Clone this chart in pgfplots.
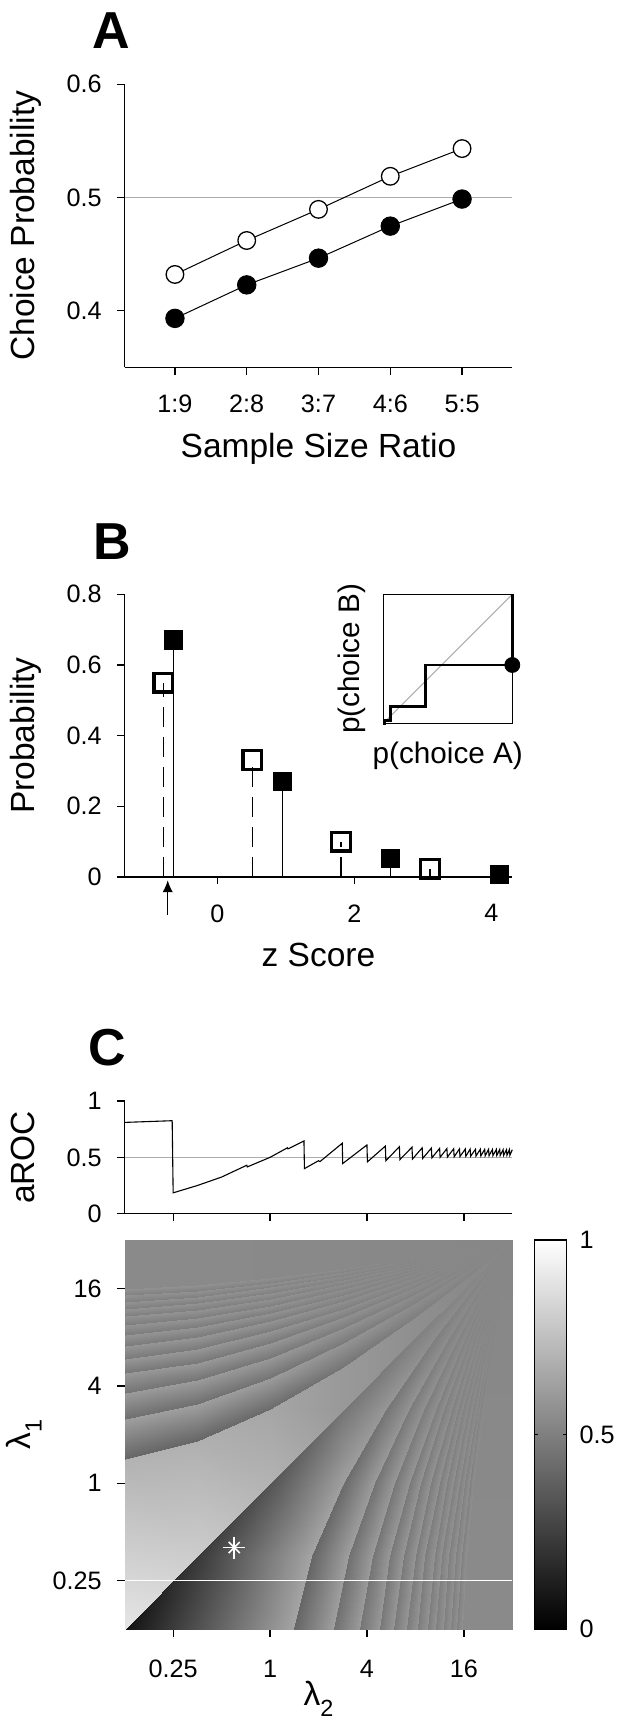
\documentclass[border=0pt]{standalone}
\usepackage{fontspec}
\setmainfont{Liberation Sans}
\usepackage{pgfplots}
\usepackage{pgfplotstable}
\pgfplotsset{compat=1.18}
\usetikzlibrary{arrows.meta}
\definecolor{lgray}{gray}{0.68}
\newcommand{\tickfont}{\fontsize{12.6pt}{15pt}\selectfont}
\newcommand{\labfont}{\fontsize{16.75pt}{20pt}\selectfont}
\newcommand{\insfont}{\fontsize{14.85pt}{18pt}\selectfont}
\newcommand{\panfont}{\fontsize{26pt}{30pt}\selectfont\bfseries}

\pgfplotsset{
 base/.style={
  scale only axis,
  axis x line*=bottom, axis y line*=left,
  axis line style={-, line width=0.65pt, black},
  tick style={line width=0.65pt, black},
  tick align=outside,
  major tick length=3.65pt,
  tick label style={font=\tickfont},
  yticklabel style={anchor=east, inner sep=0pt, xshift=-7.7pt},
  clip=false,
  every axis y label/.style={at={([xshift=-44.85pt]axis description cs:0,0.5)}, rotate=90, anchor=base, font=\labfont},
  every axis x label/.style={at={([yshift=-45pt]axis description cs:0.5,0)}, anchor=base, font=\labfont},
 },
 gmap/.style={colormap={bw}{gray(0cm)=(0); gray(1cm)=(1)}, point meta min=0, point meta max=1}
}

\pgfplotstableread{
u v m n
-3 -3 0.07 0.90
0.50 -3 0.645 0.70
0.50 -3 0.40 0.40
1.33 -3 0.625 0.625
1.33 -3 0.44 0.44
1.86 -3 0.61 0.61
1.86 -3 0.46 0.46
2.26 -3 0.60 0.60
2.26 -3 0.47 0.47
2.56 -3 0.595 0.595
2.56 -3 0.48 0.48
2.83 -3 0.59 0.59
2.83 -3 0.485 0.485
3.05 -3 0.585 0.585
3.05 -3 0.49 0.49
3.253 -3 0.582 0.582
3.253 -3 0.495 0.495
3.431 -3 0.58 0.58
3.431 -3 0.50 0.50
3.588 -3 0.578 0.578
3.588 -3 0.502 0.502
3.734 -3 0.576 0.576
3.734 -3 0.505 0.505
3.860 -3 0.575 0.575
3.860 -3 0.507 0.507
3.985 -3 0.574 0.574
3.985 -3 0.54 0.54
5 -3 0.54 0.54
-1.5 -1.5 0.22 0.80
0.865 -1.5 0.645 0.69
0.865 -1.5 0.40 0.40
1.628 -1.5 0.625 0.625
1.628 -1.5 0.44 0.44
2.115 -1.5 0.61 0.61
2.115 -1.5 0.46 0.46
2.482 -1.5 0.60 0.60
2.482 -1.5 0.47 0.47
2.758 -1.5 0.595 0.595
2.758 -1.5 0.48 0.48
3.006 -1.5 0.59 0.59
3.006 -1.5 0.485 0.485
3.208 -1.5 0.585 0.585
3.208 -1.5 0.49 0.49
3.395 -1.5 0.582 0.582
3.395 -1.5 0.495 0.495
3.558 -1.5 0.58 0.58
3.558 -1.5 0.50 0.50
3.703 -1.5 0.578 0.578
3.703 -1.5 0.502 0.502
3.837 -1.5 0.576 0.576
3.837 -1.5 0.505 0.505
3.953 -1.5 0.575 0.575
3.953 -1.5 0.507 0.507
4.067 -1.5 0.574 0.574
4.067 -1.5 0.54 0.54
5 -1.5 0.54 0.54
0 0 0.33 0.70
1.533 0 0.628 0.65
1.533 0 0.42 0.42
2.173 0 0.611 0.611
2.173 0 0.454 0.454
2.581 0 0.598 0.598
2.581 0 0.471 0.471
2.889 0 0.59 0.59
2.889 0 0.479 0.479
3.120 0 0.585 0.585
3.120 0 0.488 0.488
3.328 0 0.581 0.581
3.328 0 0.492 0.492
3.498 0 0.577 0.577
3.498 0 0.496 0.496
3.654 0 0.574 0.574
3.654 0 0.500 0.500
3.791 0 0.573 0.573
3.791 0 0.505 0.505
3.912 0 0.571 0.571
3.912 0 0.506 0.506
4.025 0 0.569 0.569
4.025 0 0.509 0.509
4.122 0 0.568 0.568
4.122 0 0.510 0.510
4.218 0 0.567 0.567
4.218 0 0.539 0.539
5 0 0.539 0.539
1.5 1.5 0.46 0.60
2.399 1.5 0.593 0.60
2.399 1.5 0.459 0.459
2.878 1.5 0.582 0.582
2.878 1.5 0.481 0.481
3.185 1.5 0.574 0.574
3.185 1.5 0.492 0.492
3.416 1.5 0.569 0.569
3.416 1.5 0.497 0.497
3.589 1.5 0.566 0.566
3.589 1.5 0.503 0.503
3.746 1.5 0.563 0.563
3.746 1.5 0.505 0.505
3.873 1.5 0.560 0.560
3.873 1.5 0.508 0.508
3.990 1.5 0.559 0.559
3.990 1.5 0.511 0.511
4.093 1.5 0.558 0.558
4.093 1.5 0.514 0.514
4.184 1.5 0.556 0.556
4.184 1.5 0.515 0.515
4.268 1.5 0.555 0.555
4.268 1.5 0.516 0.516
4.341 1.5 0.555 0.555
4.341 1.5 0.517 0.517
4.413 1.5 0.554 0.554
4.413 1.5 0.536 0.536
5 1.5 0.536 0.536
3 3 0.50 0.56
3.423 3 0.559 0.56
3.423 3 0.498 0.498
3.714 3 0.554 0.554
3.714 3 0.508 0.508
3.899 3 0.55 0.55
3.899 3 0.513 0.513
4.040 3 0.548 0.548
4.040 3 0.515 0.515
4.145 3 0.546 0.546
4.145 3 0.518 0.518
4.239 3 0.545 0.545
4.239 3 0.519 0.519
4.317 3 0.544 0.544
4.317 3 0.52 0.52
4.388 3 0.543 0.543
4.388 3 0.521 0.521
4.450 3 0.543 0.543
4.450 3 0.523 0.523
4.505 3 0.542 0.542
4.505 3 0.523 0.523
4.556 3 0.542 0.542
4.556 3 0.524 0.524
4.600 3 0.541 0.541
4.600 3 0.524 0.524
4.644 3 0.541 0.541
4.644 3 0.533 0.533
5 3 0.533 0.533
4 4 0.52 0.54
4.183 4 0.542 0.54
4.183 4 0.517 0.517
4.334 4 0.540 0.540
4.334 4 0.521 0.521
4.430 4 0.538 0.538
4.430 4 0.523 0.523
4.503 4 0.537 0.537
4.503 4 0.524 0.524
4.557 4 0.537 0.537
4.557 4 0.525 0.525
4.606 4 0.536 0.536
4.606 4 0.526 0.526
4.646 4 0.536 0.536
4.646 4 0.526 0.526
4.683 4 0.535 0.535
4.683 4 0.527 0.527
4.715 4 0.535 0.535
4.715 4 0.527 0.527
4.744 4 0.535 0.535
4.744 4 0.527 0.527
4.770 4 0.535 0.535
4.770 4 0.528 0.528
4.793 4 0.535 0.535
4.793 4 0.528 0.528
4.816 4 0.534 0.534
4.816 4 0.531 0.531
5 4 0.531 0.531
5 5 0.53 0.53
5 5 0.53 0.53
5 5 0.53 0.53
5 5 0.53 0.53
5 5 0.53 0.53
5 5 0.53 0.53
5 5 0.53 0.53
5 5 0.53 0.53
5 5 0.53 0.53
5 5 0.53 0.53
5 5 0.53 0.53
5 5 0.53 0.53
5 5 0.53 0.53
5 5 0.53 0.53
5 5 0.53 0.53
5 5 0.53 0.53
5 5 0.53 0.53
5 5 0.53 0.53
5 5 0.53 0.53
5 5 0.53 0.53
5 5 0.53 0.53
5 5 0.53 0.53
5 5 0.53 0.53
5 5 0.53 0.53
5 5 0.53 0.53
5 5 0.53 0.53
5 5 0.53 0.53
5 5 0.53 0.53
}\heat

\pgfplotstableread{
x y c
0 0 0
1 0 0
0 1 1
1 1 1
}\cbar

\begin{document}
\begin{tikzpicture}
\path[use as bounding box] (0,0) rectangle (309pt,861.5pt);

\node[anchor=base west, font=\panfont, inner sep=0pt] at (45.85pt,837.35pt) {A};
\node[anchor=base west, font=\panfont, inner sep=0pt] at (46.65pt,581.5pt) {B};
\node[anchor=base west, font=\panfont, inner sep=0pt] at (44pt,328.5pt) {C};

% Panel A
\begin{axis}[base, at={(62.35pt,677.85pt)}, anchor=south west, width=193.8pt, height=141.5pt,
 xmin=0.3, xmax=5.7, ymin=0.35, ymax=0.6,
 xtick={1,2,3,4,5}, xticklabels={1:9,2:8,3:7,4:6,5:5},
 ytick={0.4,0.5,0.6}, yticklabels={0.4,0.5,0.6},
 xticklabel style={anchor=north, inner sep=0pt, yshift=-9.9pt},
 xlabel={Sample Size Ratio}, ylabel={Choice Probability}]
\addplot[lgray, line width=0.5pt] coordinates {(0.3,0.5) (5.7,0.5)};
\addplot[black, line width=0.5pt, mark=*, mark size=4.4pt, mark options={fill=white, line width=0.65pt}] coordinates {(1,0.432) (2,0.462) (3,0.4895) (4,0.5187) (5,0.5432)};
\addplot[black, line width=0.5pt, mark=*, mark size=4.6pt, mark options={fill=black}] coordinates {(1,0.3932) (2,0.4228) (3,0.4464) (4,0.4747) (5,0.4986)};
\end{axis}

% Panel B
\begin{axis}[base, at={(62.35pt,423pt)}, anchor=south west, width=193.8pt, height=141.35pt,
 xmin=-1.352, xmax=4.307, ymin=0, ymax=0.8,
 xtick={0,2,4}, xticklabels={0,2,4},
 ytick={0,0.2,0.4,0.6,0.8}, yticklabels={0,0.2,0.4,0.6,0.8},
 xticklabel style={anchor=north, inner sep=0pt, yshift=-9.9pt},
 xlabel={z Score}, ylabel={Probability}]
\addplot[ycomb, black, line width=0.55pt, dash pattern=on 10pt off 5pt, mark=square, mark size=4.7pt, mark options={solid, line width=1.65pt}] coordinates {(-0.788,0.55) (0.511,0.331) (1.806,0.10) (3.105,0.022)};
\addplot[ycomb, black, line width=0.55pt, mark=square*, mark size=4.6pt, mark options={solid, fill=black}] coordinates {(-0.642,0.670) (0.955,0.27) (2.531,0.053) (4.117,0.0076)};
\addplot[black, line width=0.75pt, -{Latex[length=6pt,width=5.2pt]}] coordinates {(-0.724,-0.108) (-0.724,-0.009)};
\end{axis}

% Inset
\begin{axis}[at={(191.65pt,499.85pt)}, anchor=south west, scale only axis, width=64.5pt, height=64.5pt,
 xmin=0, xmax=1, ymin=0, ymax=1, xtick=\empty, ytick=\empty, clip=false,
 axis line style={line width=0.65pt},
 xlabel={p(choice A)}, ylabel={p(choice B)},
 xlabel style={at={([yshift=-20.1pt]axis description cs:0.5,0)}, anchor=base, font=\insfont},
 ylabel style={at={([xshift=-12pt]axis description cs:0,0.5)}, anchor=base, font=\insfont}]
\addplot[lgray, line width=0.5pt] coordinates {(0,0) (1,1)};
\addplot[black, line width=1.35pt] coordinates {(0,0) (0.012,0) (0.012,0.02) (0.057,0.02) (0.057,0.129) (0.328,0.129) (0.328,0.452) (1,0.452) (1,1)};
\addplot[only marks, mark=*, mark size=3.75pt, black] coordinates {(1,0.452)};
\end{axis}

% Panel C top
\begin{axis}[base, at={(62.35pt,254.65pt)}, anchor=south west, width=193.8pt, height=56.35pt,
 xmin=-3, xmax=5, ymin=0, ymax=1,
 xtick={-2,0,2,4}, xticklabels={},
 ytick={0,0.5,1}, yticklabels={0,0.5,1},
 ylabel={aROC}]
\addplot[lgray, line width=0.5pt] coordinates {(-3,0.5) (5,0.5)};
\addplot[black, line width=0.55pt] coordinates {
(-3,0.81) (-2.02,0.825) (-2.0,0.185) (-1.5,0.25) (-1.0,0.325) (-0.48,0.43) (-0.47,0.415)
(0,0.50) (0.36,0.585) (0.37,0.575) (0.70,0.645) (0.71,0.40) (1.0,0.47) (1.03,0.462)
(1.49,0.625) (1.50,0.445) (2.0,0.61) (2.01,0.46) (2.38,0.60) (2.39,0.47) (2.67,0.595)
(2.68,0.48) (2.93,0.59) (2.94,0.485) (3.14,0.585) (3.15,0.49) (3.33,0.582) (3.34,0.495)
(3.50,0.58) (3.51,0.50) (3.65,0.578) (3.66,0.502) (3.79,0.576) (3.80,0.505) (3.91,0.575)
(3.92,0.507) (4.03,0.574) (4.04,0.509) (4.13,0.573) (4.14,0.51) (4.24,0.572) (4.25,0.511)
(4.34,0.572) (4.35,0.512) (4.43,0.571) (4.44,0.513) (4.51,0.571) (4.52,0.514) (4.59,0.570)
(4.60,0.515) (4.67,0.570) (4.68,0.516) (4.74,0.570) (4.75,0.517) (4.81,0.569) (4.82,0.517)
(4.88,0.569) (4.89,0.518) (4.94,0.569) (4.95,0.518) (5.0,0.568)};
\end{axis}

% Heatmap
\begin{axis}[base, gmap, at={(62.35pt,46.85pt)}, anchor=south west, width=193.8pt, height=194.65pt,
 xmin=-3, xmax=5, ymin=-3, ymax=5,
 xtick={-2,0,2,4}, xticklabels={0.25,1,4,16},
 ytick={-2,0,2,4}, yticklabels={0.25,1,4,16},
 xticklabel style={anchor=north, inner sep=0pt, yshift=-11.35pt},
 axis line style={draw=none},
 xlabel={λ\raisebox{-5.85pt}{\fontsize{11.7pt}{12pt}\selectfont 2}},
 ylabel={λ\raisebox{-5.85pt}{\fontsize{11.7pt}{12pt}\selectfont 1}},
 xlabel style={at={([yshift=-37.85pt]axis description cs:0.5,0)}},
 ylabel style={at={([xshift=-47.35pt]axis description cs:0,0.5)}}]
\addplot[surf, shader=interp, mesh/cols=28, point meta=explicit] table[x=u, y=v, meta=m] {\heat};
\addplot[surf, shader=interp, mesh/cols=28, point meta=explicit] table[x=v, y=u, meta=n] {\heat};
\addplot[white, line width=0.85pt] coordinates {(-3,-2) (5,-2)};
\addplot[only marks, white, mark=+, mark size=5.5pt, mark options={line width=0.8pt}] coordinates {(-0.74,-1.32)};
\addplot[only marks, white, mark=x, mark size=3.9pt, mark options={line width=0.8pt}] coordinates {(-0.74,-1.32)};
\end{axis}

% Colour bar
\begin{axis}[gmap, at={(267.15pt,46.85pt)}, anchor=south west, scale only axis, width=16.2pt, height=194.65pt,
 xmin=0, xmax=1, ymin=0, ymax=1, xtick=\empty,
 ytick={0,0.5,1}, yticklabels={0,0.5,1},
 tick align=inside, major tick length=1.75pt, ytick pos=both, yticklabel pos=right,
 tick style={line width=0.65pt, black}, axis line style={line width=0.65pt},
 tick label style={font=\tickfont},
 yticklabel style={anchor=west, inner sep=0pt, xshift=6.3pt},
 axis on top]
\addplot[surf, shader=interp, mesh/cols=2, point meta=explicit] table[x=x, y=y, meta=c] {\cbar};
\end{axis}
\end{tikzpicture}
\end{document}
